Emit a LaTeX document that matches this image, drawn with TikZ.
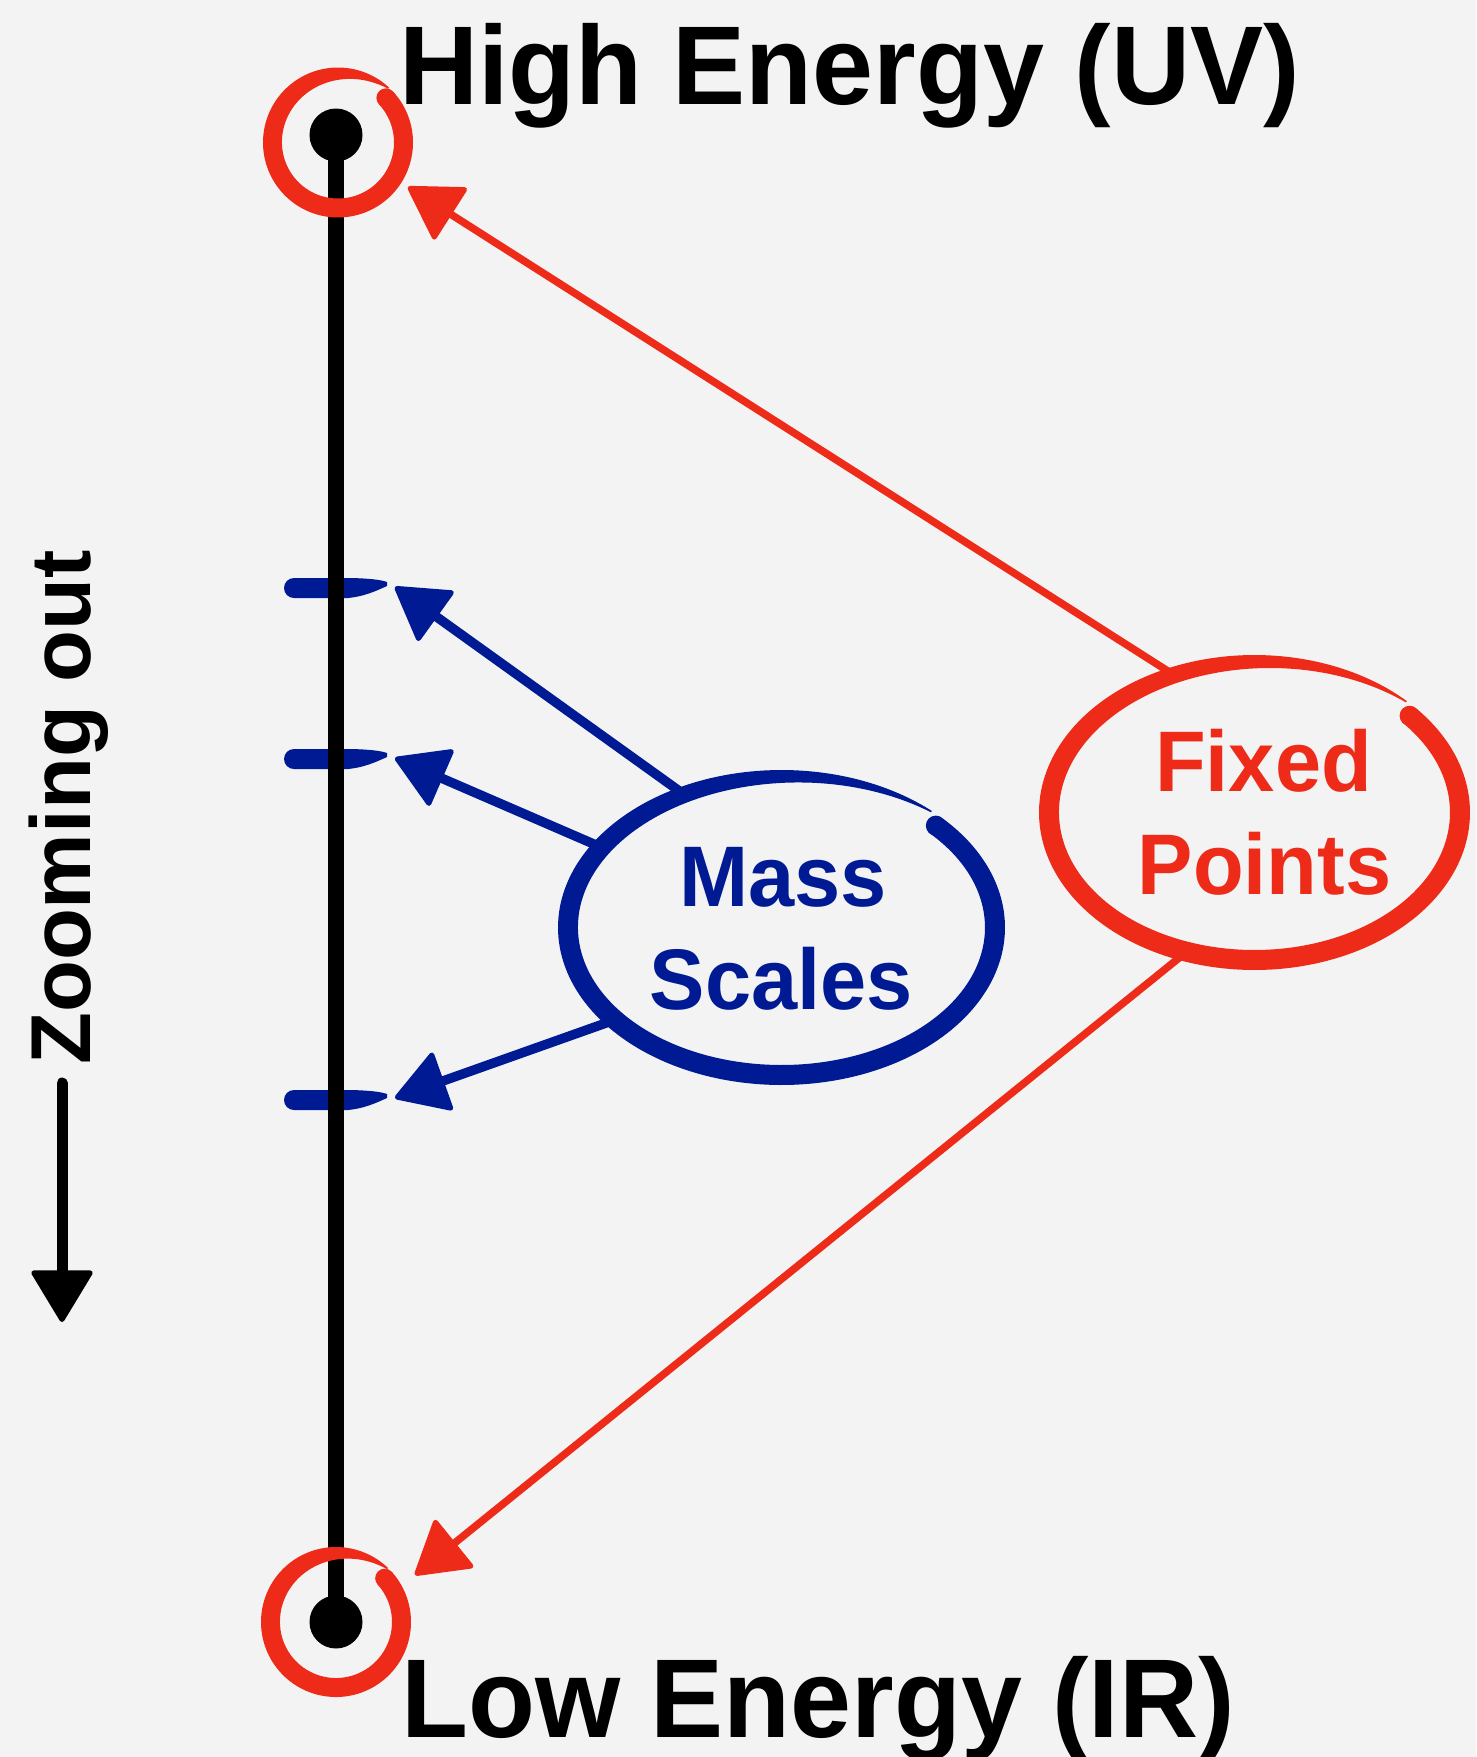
\documentclass[tikz,border=0pt]{standalone}
\usepackage{fontspec}
\setmainfont{Liberation Sans}
\newfontfamily\hvb{Liberation Sans}[FakeStretch=0.965]
\newfontfamily\hvbig{Liberation Sans}[FakeStretch=0.978]
\usetikzlibrary{arrows.meta,shapes.geometric}
\definecolor{bg}{RGB}{243,243,243}
\definecolor{fpred}{RGB}{237,43,24}
\definecolor{msblue}{RGB}{0,26,148}
% brush loop: #1 centre, #2 outer x radius, #3 outer y radius, #4 stroke width, #5 start angle, #6 colour
\newcommand\brushloop[6]{%
  \begin{scope}[shift={(#1)}]
    \fill[#6] plot[domain=0:356, samples=200, variable=\t]
        ({#2*cos(#5-\t)*1pt}, {#3*sin(#5-\t)*1pt})
      -- plot[domain=356:0, samples=200, variable=\t]
        ({(#2-#4*bw(\t))*cos(#5-\t)*1pt}, {(#3-#4*bw(\t))*sin(#5-\t)*1pt})
      -- cycle;
    \fill[#6] ({(#2-#4/2)*cos(#5)*1pt}, {(#3-#4/2)*sin(#5)*1pt}) circle[radius=#4/2*1pt];
  \end{scope}}
% blue tick mark on the axis
\newcommand\masstick[1]{%
  \fill[msblue] (294,#1-10) -- (352,#1-10)
    .. controls (368,#1-9.5) and (380,#1-8.5) .. (387,#1-6) -- (387,#1-2)
    .. controls (376,#1+3) and (364,#1+8.5) .. (348,#1+10) -- (294,#1+10)
    arc[start angle=-90, end angle=-270, radius=10pt] -- cycle;}
\begin{document}
\begin{tikzpicture}[x=1pt,y=-1pt,
  declare function={bs(\t)=(\t>=200)*(\t-200)/156; bw(\t)=1-0.92*bs(\t)*bs(\t)*bs(\t);},
  bigtxt/.style={inner sep=0pt, font=\hvbig\bfseries\fontsize{112}{120}\selectfont},
  midtxt/.style={inner sep=0pt, font=\hvb\bfseries\fontsize{86}{100}\selectfont},
  sidetxt/.style={inner sep=0pt, font=\bfseries\fontsize{85}{95}\selectfont},
  endpoint/.style={circle, fill=black, minimum size=53pt, inner sep=0pt},
  ring/.style={circle, minimum size=132pt, inner sep=0pt},
  blob/.style={ellipse, inner sep=0pt},
  tipshape/.style={-{Triangle[length=54pt, width=64pt, round, line width=5pt]}},
  bluearrow/.style={msblue, line width=9.5pt, tipshape},
  redarrow/.style={fpred, line width=7.5pt, tipshape},
  blackarrow/.style={black, line width=11pt, line cap=round, tipshape}]
\fill[bg] (0,0) rectangle (1476,1757);
\useasboundingbox (0,0) rectangle (1476,1757);

% ticks (under the axis)
\masstick{588}
\masstick{759}
\masstick{1100}

% axis
\node[endpoint] (uvdot) at (336,135) {};
\node[endpoint] (irdot) at (336,1622) {};
\draw[line width=16pt] (uvdot.center) -- (irdot.center);

% named places
\node[ring] (uvring) at (338,142.5) {};
\node[ring] (irring) at (336,1622) {};
\node[blob, minimum width=427pt, minimum height=295pt] (mass) at (781.5,927.5) {};
\node[blob, minimum width=411pt, minimum height=295pt] (fixed) at (1254.5,812.5) {};
\coordinate (t1) at (395,587);
\coordinate (t2) at (395,758);
\coordinate (t3) at (395,1098);
\coordinate (uvtip) at (408,187);
\coordinate (irtip) at (415,1575);
\coordinate (zstart) at (62,1083);
\coordinate (zend) at (62,1322);

% connectors
\draw[bluearrow] (mass.126.2) -- (t1);
\draw[bluearrow] (mass.156.7) -- (t2);
\draw[bluearrow] (mass.209.4) -- (t3);
\draw[redarrow] (fixed.120.9) -- (uvtip);
\draw[redarrow] (fixed.244.4) -- (irtip);
\draw[blackarrow] (zstart) -- (zend);

% hand-drawn loops
\brushloop{uvring.center}{75}{75}{19}{43}{fpred}
\brushloop{irring.center}{75}{75}{19}{42}{fpred}
\brushloop{mass.center}{223.5}{157.5}{20}{43.7}{msblue}
\brushloop{fixed.center}{215.5}{157.5}{20}{41}{fpred}

% texts
\node[bigtxt, anchor=base west] (uvlabel) at (399,104) {High Energy (UV)};
\node[bigtxt, anchor=base west] (irlabel) at (401,1737) {Low Energy (IR)};
\node[midtxt, text=msblue, anchor=base] (masstxt) at (783,906) {Mass};
\node[midtxt, text=msblue, anchor=base] (scalestxt) at (781.5,1009) {Scales};
\node[midtxt, text=fpred, anchor=base] (fixedtxt) at (1263.5,791) {Fixed};
\node[midtxt, text=fpred, anchor=base] (pointstxt) at (1264.5,894) {Points};
\node[sidetxt, rotate=90, anchor=base west] (zoomtxt) at (90,1065) {Zooming out};
\end{tikzpicture}
\end{document}
